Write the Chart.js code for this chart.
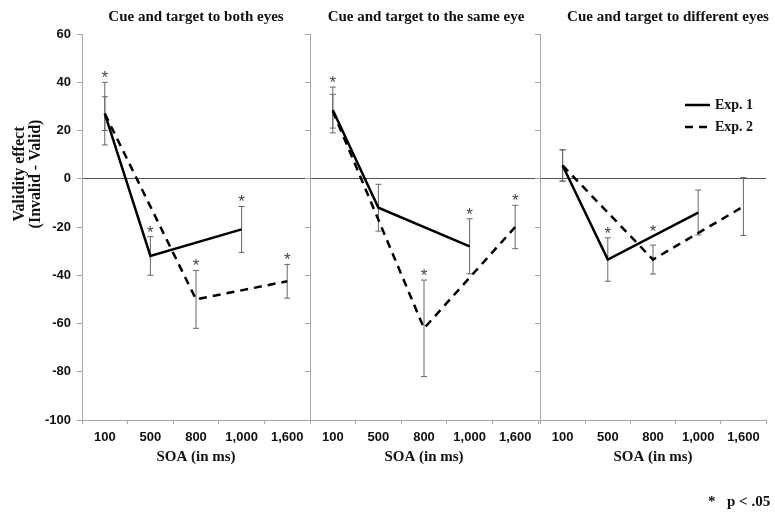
<!DOCTYPE html>
<html><head><meta charset="utf-8">
<script src="https://cdn.jsdelivr.net/npm/chart.js@4/dist/chart.umd.min.js"></script>
<style>
html,body{margin:0;padding:0;background:#fff;}
#wrap{position:relative;width:775px;height:515px;overflow:hidden;background:#fff;}
canvas{position:absolute;top:0;}
.note{position:absolute;top:493px;font:bold 15px "Liberation Serif",serif;line-height:16px;color:#111;white-space:pre;}
</style></head><body>
<div id="wrap">
<canvas id="c1" width="312" height="515" style="left:0px"></canvas>
<canvas id="c2" width="239" height="515" style="left:300px"></canvas>
<canvas id="c3" width="245" height="515" style="left:530px"></canvas>
<span class="note" style="left:708px">*</span><span class="note" style="left:727px">p &lt; .05</span>
</div>
<script>
// ---- data ----
const categories = ["100", "500", "800", "1,000", "1,600"];
const panelTitles = ["Cue and target to both eyes", "Cue and target to the same eye", "Cue and target to different eyes"];
const seriesNames = ["Exp. 1", "Exp. 2"];
const yTicksMin = -100, yTicksMax = 60, yStep = 20;

// Panel 1: both eyes
const p1Exp1 = [27, -32, null, -21, null];
const p1Exp1Err = [13, 8, null, 9.5, null];
const p1Exp1Sig = [true, true, false, true, false];
const p1Exp2 = [27, null, -50, null, -42.5];
const p1Exp2Err = [7, null, 12, null, 7];
const p1Exp2Sig = [false, false, true, false, true];

// Panel 2: same eye
const p2Exp1 = [28.5, -12, null, -28, null];
const p2Exp1Err = [9.5, 9.7, null, 11.4, null];
const p2Exp1Sig = [true, false, false, true, false];
const p2Exp2 = [28, null, -62, null, -20];
const p2Exp2Err = [7, null, 20, null, 9];
const p2Exp2Sig = [false, false, true, false, true];

// Panel 3: different eyes
const p3Exp1 = [5.5, -33.5, null, -14, null];
const p3Exp1Err = [6.5, 9, null, 9.3, null];
const p3Exp1Sig = [false, true, false, false, false];
const p3Exp2 = [5.5, null, -33.5, null, -11.5];
const p3Exp2Err = [6.5, null, 6, null, 12];
const p3Exp2Sig = [false, false, true, false, false];

const yTitleLines = ["Validity effect", "(Invalid - Valid)"];
const xTitle = "SOA (in ms)";

// ---- plugins ----
function lineYAt(chart, dsIndex, x) {
  const ds = chart.data.datasets[dsIndex];
  const pts = chart.getDatasetMeta(dsIndex).data.filter((p, j) => ds.data[j] !== null);
  for (let k = 0; k < pts.length - 1; k++) {
    const a = pts[k], b = pts[k + 1];
    if (x > a.x && x < b.x) return a.y + (b.y - a.y) * (x - a.x) / (b.x - a.x);
  }
  return null;
}
const errBars = {
  id: 'errBars',
  beforeDatasetsDraw(chart) {
    const ctx = chart.ctx, ys = chart.scales.y;
    chart.data.datasets.forEach((ds, i) => {
      const meta = chart.getDatasetMeta(i);
      ds.data.forEach((v, j) => {
        if (v === null || ds.errors[j] == null) return;
        const x = meta.data[j].x;
        const t = ys.getPixelForValue(v + ds.errors[j]);
        const b = ys.getPixelForValue(v - ds.errors[j]);
        ctx.save();
        ctx.strokeStyle = '#666'; ctx.lineWidth = 1;
        ctx.beginPath();
        ctx.moveTo(x, t); ctx.lineTo(x, b);
        ctx.moveTo(x - 3, t); ctx.lineTo(x + 3, t);
        ctx.moveTo(x - 3, b); ctx.lineTo(x + 3, b);
        ctx.stroke();
        if (ds.sig[j]) {
          let anchor = t;
          chart.data.datasets.forEach((o, k) => {
            if (k === i) return;
            const ly = lineYAt(chart, k, x);
            if (ly !== null && ly < anchor && ly > anchor - 18) anchor = ly;
          });
          ctx.fillStyle = '#444';
          ctx.font = '17px "Liberation Sans", Arial, sans-serif';
          ctx.textAlign = 'center'; ctx.textBaseline = 'alphabetic';
          ctx.fillText('*', x, anchor + 1);
        }
        ctx.restore();
      });
    });
  }
};
const panelText = {
  id: 'panelText',
  afterDraw(chart, args, o) {
    const ctx = chart.ctx, a = chart.chartArea;
    ctx.save();
    ctx.fillStyle = '#111';
    ctx.font = 'bold 15px "Liberation Serif", "Times New Roman", serif';
    ctx.textAlign = 'center'; ctx.textBaseline = 'middle';
    ctx.fillText(o.title, (a.left + a.right) / 2 + (o.titleOffset || 0), 17);
    if (o.yTitle) {
      ctx.save();
      ctx.font = 'bold 16px "Liberation Serif", "Times New Roman", serif';
      ctx.translate(0, 174);
      ctx.rotate(-Math.PI / 2);
      o.yTitle.forEach((t, k) => ctx.fillText(t, 0, 20 + k * 16));
      ctx.restore();
    }
    if (o.legend) {
      const x0 = a.right - 81;
      chart.data.datasets.forEach((ds, i) => {
        const yy = a.top + 71 + i * 22;
        ctx.save();
        ctx.strokeStyle = '#000'; ctx.lineWidth = 2.5;
        ctx.setLineDash(ds.borderDash || []);
        ctx.beginPath(); ctx.moveTo(x0, yy); ctx.lineTo(x0 + 25, yy); ctx.stroke();
        ctx.restore();
        ctx.textAlign = 'left';
        ctx.font = 'bold 14px "Liberation Serif", "Times New Roman", serif';
        ctx.fillText(ds.label, x0 + 30, yy);
      });
    }
    ctx.restore();
  }
};

function makePanel(id, title, e1, e1Err, e1Sig, e2, e2Err, e2Sig, cfg) {
  const tickFont = { family: '"Liberation Sans", Arial, sans-serif', size: 13, weight: 'bold' };
  new Chart(document.getElementById(id), {
    type: 'line',
    data: {
      labels: categories,
      datasets: [
        { label: seriesNames[0], data: e1, errors: e1Err, sig: e1Sig, borderColor: '#000', borderWidth: 2.5,
          pointRadius: 0, spanGaps: true, tension: 0, fill: false },
        { label: seriesNames[1], data: e2, errors: e2Err, sig: e2Sig, borderColor: '#000', borderWidth: 2.5,
          borderDash: [8, 6], pointRadius: 0, spanGaps: true, tension: 0, fill: false }
      ]
    },
    options: {
      responsive: false, animation: false,
      layout: { padding: { top: 34, left: 0, right: cfg.padRight, bottom: 45 } },
      plugins: {
        legend: { display: false }, tooltip: { enabled: false },
        panelText: { title: title, titleOffset: cfg.titleOffset, yTitle: cfg.yTitle, legend: cfg.legend }
      },
      scales: {
        x: {
          type: 'category', offset: true,
          grid: { offset: true, drawOnChartArea: false, tickColor: '#a8a8a8', tickLength: 4 },
          border: { color: '#a8a8a8', width: 1 },
          ticks: { color: '#111', font: tickFont, padding: 6, maxRotation: 0, autoSkip: false },
          title: { display: true, text: xTitle, color: '#111',
                   font: { family: '"Liberation Serif", "Times New Roman", serif', size: 15, weight: 'bold' },
                   padding: { top: 0, bottom: 4 } },
          afterFit: s => { s.height = 50; }
        },
        y: {
          min: yTicksMin, max: yTicksMax,
          ticks: { stepSize: yStep, display: cfg.yLabels, color: '#111', font: tickFont, padding: 6 },
          grid: { drawOnChartArea: true, tickLength: 5, tickColor: '#a8a8a8', lineWidth: 1,
                  color: c => (c.tick && c.tick.value === 0) ? '#555' : 'rgba(0,0,0,0)' },
          border: { display: true, color: '#a8a8a8', width: 1 },
          afterFit: s => { s.width = cfg.yWidth; }
        }
      }
    },
    plugins: [errBars, panelText]
  });
}

makePanel('c1', panelTitles[0], p1Exp1, p1Exp1Err, p1Exp1Sig, p1Exp2, p1Exp2Err, p1Exp2Sig,
  { padRight: 2, yWidth: 82, yLabels: true, titleOffset: 0, yTitle: yTitleLines, legend: false });
makePanel('c2', panelTitles[1], p2Exp1, p2Exp1Err, p2Exp1Sig, p2Exp2, p2Exp2Err, p2Exp2Sig,
  { padRight: 1, yWidth: 10, yLabels: false, titleOffset: 2, yTitle: null, legend: false });
makePanel('c3', panelTitles[2], p3Exp1, p3Exp1Err, p3Exp1Sig, p3Exp2, p3Exp2Err, p3Exp2Sig,
  { padRight: 9, yWidth: 10, yLabels: false, titleOffset: 15, yTitle: null, legend: true });
</script>
</body></html>
